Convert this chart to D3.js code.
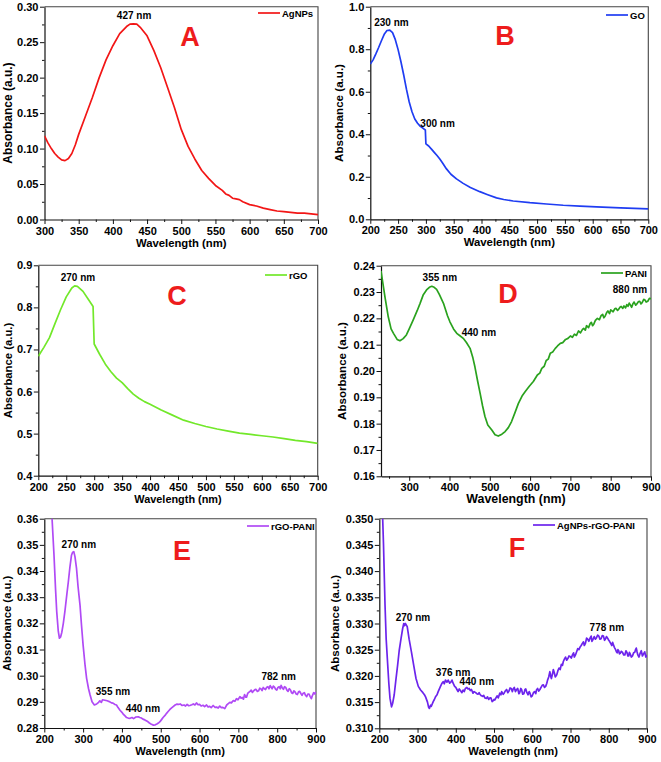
<!DOCTYPE html>
<html>
<head>
<meta charset="utf-8">
<script src="https://cdn.jsdelivr.net/npm/d3@7"></script>
<style>
  html, body { margin: 0; padding: 0; background: #fff; }
  svg { display: block; }
  text { font-family: "Liberation Sans", Arial, sans-serif; font-weight: bold; fill: #000; }
</style>
</head>
<body>
<svg id="chart" width="661" height="762"></svg>
<script>
// ---------------- DATA ----------------
const agnpsData = [[300,0.118],[305,0.108],[310,0.100],[315,0.093],[320,0.088],[325,0.084],[330,0.083],[335,0.086],[340,0.093],[345,0.105],[350,0.120],[360,0.146],[370,0.172],[380,0.200],[390,0.225],[400,0.245],[410,0.262],[420,0.272],[425,0.2755],[430,0.2758],[435,0.2755],[440,0.271],[450,0.259],[460,0.238],[470,0.214],[480,0.186],[490,0.158],[500,0.127],[510,0.103],[520,0.085],[530,0.069],[540,0.058],[550,0.048],[560,0.041],[565,0.036],[570,0.034],[575,0.030],[580,0.029],[585,0.028],[590,0.025],[600,0.021],[610,0.019],[620,0.016],[630,0.014],[640,0.012],[650,0.011],[660,0.010],[670,0.009],[680,0.009],[690,0.008],[700,0.007]];

const goData = [[200,0.730],[205,0.750],[210,0.778],[215,0.808],[220,0.840],[225,0.870],[230,0.888],[235,0.890],[240,0.878],[245,0.845],[250,0.798],[255,0.742],[260,0.680],[265,0.612],[270,0.552],[275,0.506],[280,0.472],[285,0.452],[290,0.437],[295,0.428],[299,0.420],[300,0.355],[305,0.345],[310,0.330],[315,0.315],[320,0.300],[325,0.284],[330,0.265],[337,0.237],[345,0.212],[355,0.190],[367,0.169],[380,0.150],[397,0.130],[410,0.117],[427,0.101],[440,0.093],[457,0.086],[487,0.078],[517,0.072],[547,0.066],[577,0.062],[607,0.058],[650,0.054],[700,0.049]];

const rgoData = [[200,0.684],[210,0.705],[220,0.728],[230,0.762],[240,0.795],[250,0.825],[260,0.846],[265,0.851],[270,0.850],[280,0.838],[290,0.818],[298,0.802],[300,0.713],[310,0.688],[320,0.665],[330,0.647],[340,0.632],[350,0.621],[360,0.607],[370,0.594],[380,0.584],[390,0.576],[400,0.570],[420,0.556],[440,0.544],[460,0.532],[480,0.524],[500,0.517],[520,0.511],[540,0.506],[560,0.501],[580,0.498],[600,0.495],[620,0.492],[640,0.488],[660,0.484],[680,0.481],[700,0.477]];

const paniData = [[230,0.2380],[235,0.2330],[240,0.2280],[248,0.2206],[255,0.2160],[261,0.2143],[270,0.2120],[277,0.2115],[285,0.2123],[293,0.2137],[300,0.2160],[310,0.2194],[320,0.2230],[327,0.2257],[335,0.2290],[343,0.2308],[350,0.2318],[356,0.2322],[362,0.2318],[368,0.2310],[375,0.2290],[385,0.2257],[395,0.2210],[401,0.2187],[410,0.2160],[418,0.2143],[425,0.2135],[434,0.2124],[442,0.2108],[451,0.2086],[458,0.2050],[463,0.2016],[470,0.1960],[476,0.1915],[482,0.1868],[488,0.1827],[495,0.1795],[505,0.1776],[513,0.1758],[521,0.1753],[530,0.1760],[538,0.1770],[546,0.1785],[554,0.1808],[562,0.1840],[571,0.1877],[580,0.1905],[588,0.1922],[598,0.1942],[608,0.1960],[618,0.1985],[624,0.1992],[629,0.2010],[635,0.2018],[640,0.2040],[645,0.2045],[650,0.2067],[656,0.2072],[662,0.2085],[668,0.2095],[675,0.2105],[681,0.2108],[688,0.2120],[694,0.2124],[700,0.2133],[705,0.2128],[710,0.2140],[715,0.2135],[720,0.2152],[725,0.2145],[730,0.2158],[733,0.2162],[737,0.2155],[740,0.2172],[745,0.2165],[749,0.2180],[752,0.2185],[755,0.2172],[758,0.2178],[762,0.2192],[767,0.2200],[772,0.2195],[776,0.2210],[780,0.2215],[783,0.2202],[786,0.2208],[790,0.2222],[793,0.2228],[797,0.2218],[800,0.2232],[806,0.2225],[810,0.2236],[813,0.2238],[817,0.2230],[820,0.2235],[823,0.2242],[826,0.2245],[830,0.2238],[833,0.2247],[837,0.2240],[840,0.2252],[843,0.2246],[846,0.2258],[849,0.2250],[852,0.2242],[855,0.2255],[858,0.2262],[862,0.2250],[866,0.2257],[869,0.2264],[872,0.2265],[875,0.2255],[878,0.2260],[882,0.2272],[885,0.2270],[888,0.2262],[892,0.2265],[896,0.2276],[900,0.2275]];

const rgoPaniData = [[215,0.3720],[220,0.3600],[225,0.3460],[229,0.3330],[232,0.3245],[236,0.3170],[239,0.3143],[242,0.3148],[245,0.3165],[249,0.3200],[253,0.3245],[258,0.3310],[262,0.3360],[266,0.3415],[270,0.3460],[273,0.3472],[276,0.3474],[279,0.3455],[283,0.3410],[287,0.3340],[292,0.3270],[296,0.3190],[300,0.3117],[305,0.3040],[309,0.2990],[314,0.2950],[318,0.2926],[323,0.2900],[329,0.2888],[335,0.2892],[340,0.2898],[343,0.2904],[347,0.2898],[350,0.2908],[356,0.2906],[362,0.2904],[369,0.2900],[373,0.2896],[377,0.2895],[382,0.2890],[386,0.2888],[390,0.2878],[395,0.2868],[400,0.2860],[404,0.2852],[408,0.2846],[412,0.2840],[416,0.2838],[421,0.2837],[426,0.2840],[430,0.2836],[436,0.2842],[442,0.2843],[446,0.2840],[450,0.2838],[454,0.2834],[459,0.2831],[465,0.2826],[470,0.2820],[476,0.2814],[481,0.2811],[486,0.2812],[490,0.2815],[494,0.2819],[498,0.2824],[502,0.2832],[506,0.2840],[511,0.2848],[515,0.2856],[519,0.2863],[523,0.2870],[528,0.2877],[532,0.2882],[537,0.2888],[541,0.2891],[546,0.2890],[550,0.2892],[555,0.2886],[560,0.2888],[564,0.2884],[568,0.2890],[572,0.2885],[575,0.2886],[580,0.2889],[584,0.2892],[588,0.2888],[592,0.2896],[596,0.2889],[600,0.2890],[604,0.2884],[609,0.2887],[613,0.2882],[618,0.2888],[622,0.2880],[626,0.2883],[630,0.2878],[635,0.2886],[640,0.2879],[644,0.2880],[648,0.2876],[652,0.2884],[656,0.2878],[660,0.2879],[665,0.2874],[667,0.2880],[670,0.2888],[674,0.2893],[678,0.2898],[682,0.2896],[687,0.2905],[691,0.2902],[695,0.2912],[699,0.2908],[704,0.2920],[707,0.2914],[710,0.2917],[713,0.2910],[716,0.2928],[719,0.2918],[721,0.2918],[724,0.2932],[726,0.2935],[730,0.2940],[733,0.2945],[736,0.2936],[738,0.2940],[742,0.2946],[745,0.2948],[749,0.2940],[752,0.2942],[755,0.2952],[758,0.2950],[761,0.2943],[764,0.2955],[767,0.2950],[770,0.2947],[773,0.2956],[776,0.2958],[779,0.2950],[782,0.2962],[785,0.2955],[787,0.2950],[790,0.2960],[793,0.2956],[796,0.2948],[799,0.2945],[802,0.2955],[805,0.2958],[808,0.2950],[810,0.2963],[813,0.2954],[816,0.2948],[819,0.2958],[822,0.2955],[825,0.2945],[828,0.2940],[831,0.2950],[834,0.2946],[837,0.2935],[840,0.2932],[843,0.2942],[846,0.2938],[849,0.2930],[852,0.2928],[855,0.2938],[858,0.2940],[861,0.2932],[864,0.2925],[867,0.2933],[870,0.2935],[873,0.2925],[876,0.2920],[879,0.2930],[882,0.2930],[885,0.2920],[888,0.2912],[891,0.2925],[894,0.2935],[897,0.2930],[900,0.2938]];

const agRgoPaniData = [[208,0.3520],[211,0.3450],[215,0.3335],[218,0.3270],[222,0.3221],[225,0.3185],[228,0.3157],[232,0.3141],[235,0.3148],[239,0.3164],[243,0.3190],[248,0.3221],[252,0.3248],[257,0.3272],[261,0.3290],[264,0.3300],[266,0.3296],[268,0.3300],[270,0.3298],[273,0.3294],[278,0.3270],[284,0.3246],[290,0.3220],[296,0.3195],[302,0.3180],[308,0.3173],[314,0.3168],[318,0.3164],[321,0.3160],[326,0.3150],[329,0.3140],[331,0.3138],[334,0.3144],[336,0.3142],[341,0.3151],[344,0.3155],[347,0.3160],[351,0.3164],[354,0.3170],[360,0.3180],[364,0.3186],[367,0.3189],[370,0.3185],[373,0.3192],[377,0.3188],[380,0.3192],[384,0.3186],[387,0.3188],[390,0.3192],[393,0.3186],[397,0.3180],[400,0.3178],[403,0.3174],[406,0.3170],[409,0.3175],[412,0.3172],[416,0.3168],[419,0.3173],[422,0.3170],[425,0.3176],[429,0.3178],[432,0.3175],[435,0.3176],[438,0.3172],[441,0.3174],[445,0.3167],[448,0.3170],[452,0.3168],[455,0.3166],[458,0.3165],[461,0.3168],[463,0.3165],[467,0.3162],[470,0.3161],[473,0.3163],[476,0.3158],[480,0.3157],[483,0.3160],[486,0.3155],[489,0.3158],[492,0.3158],[495,0.3151],[497,0.3152],[500,0.3155],[502,0.3154],[505,0.3158],[508,0.3162],[511,0.3158],[515,0.3167],[518,0.3164],[520,0.3170],[524,0.3165],[527,0.3168],[530,0.3172],[533,0.3174],[536,0.3168],[539,0.3171],[542,0.3177],[545,0.3176],[548,0.3170],[550,0.3175],[553,0.3178],[556,0.3170],[559,0.3174],[562,0.3176],[565,0.3166],[567,0.3168],[570,0.3176],[572,0.3174],[575,0.3165],[578,0.3166],[581,0.3174],[583,0.3175],[586,0.3168],[589,0.3164],[592,0.3170],[594,0.3167],[597,0.3160],[600,0.3162],[603,0.3168],[606,0.3170],[609,0.3166],[611,0.3173],[614,0.3176],[617,0.3171],[620,0.3174],[623,0.3178],[626,0.3182],[629,0.3183],[632,0.3178],[635,0.3180],[638,0.3186],[640,0.3192],[643,0.3198],[646,0.3208],[648,0.3200],[650,0.3195],[653,0.3204],[655,0.3212],[658,0.3205],[660,0.3198],[662,0.3200],[664,0.3202],[667,0.3210],[670,0.3215],[673,0.3212],[676,0.3222],[679,0.3220],[681,0.3227],[684,0.3232],[687,0.3236],[690,0.3230],[693,0.3233],[696,0.3238],[699,0.3237],[702,0.3234],[705,0.3240],[708,0.3244],[710,0.3236],[713,0.3240],[716,0.3246],[719,0.3252],[722,0.3250],[725,0.3255],[728,0.3258],[731,0.3262],[734,0.3265],[736,0.3258],[739,0.3262],[742,0.3272],[745,0.3270],[748,0.3266],[751,0.3272],[754,0.3276],[756,0.3266],[759,0.3270],[762,0.3275],[765,0.3270],[768,0.3273],[771,0.3278],[774,0.3276],[777,0.3270],[780,0.3271],[783,0.3277],[786,0.3276],[789,0.3268],[791,0.3270],[794,0.3275],[797,0.3272],[800,0.3268],[802,0.3266],[805,0.3262],[808,0.3258],[810,0.3264],[812,0.3260],[815,0.3254],[818,0.3250],[820,0.3246],[822,0.3244],[824,0.3250],[826,0.3248],[828,0.3242],[830,0.3243],[833,0.3247],[836,0.3245],[839,0.3240],[842,0.3240],[845,0.3248],[848,0.3244],[850,0.3238],[852,0.3238],[854,0.3245],[856,0.3242],[859,0.3236],[862,0.3238],[865,0.3244],[868,0.3245],[870,0.3250],[872,0.3253],[874,0.3246],[876,0.3240],[879,0.3236],[882,0.3243],[885,0.3248],[888,0.3238],[891,0.3242],[894,0.3246],[897,0.3236],[900,0.3240]];

// tick values
const aXTicks = [300,350,400,450,500,550,600,650,700];
const aYTicks = [0.00,0.05,0.10,0.15,0.20,0.25,0.30];
const bXTicks = [200,250,300,350,400,450,500,550,600,650,700];
const bYTicks = [0.0,0.2,0.4,0.6,0.8,1.0];
const cXTicks = [200,250,300,350,400,450,500,550,600,650,700];
const cYTicks = [0.4,0.5,0.6,0.7,0.8,0.9];
const dXTicks = [300,400,500,600,700,800,900];
const dYTicks = [0.16,0.17,0.18,0.19,0.20,0.21,0.22,0.23,0.24];
const eXTicks = [200,300,400,500,600,700,800,900];
const eYTicks = [0.28,0.29,0.30,0.31,0.32,0.33,0.34,0.35,0.36];
const fXTicks = [200,300,400,500,600,700,800,900];
const fYTicks = [0.310,0.315,0.320,0.325,0.330,0.335,0.340,0.345,0.350];

// peak annotations (text, wavelength, absorbance at label baseline)
const aNotes = [["427 nm",431,0.2827]];
const bNotes = [["230 nm",238,0.909],["300 nm",321,0.434]];
const cNotes = [["270 nm",271,0.8627]];
const dNotes = [["355 nm",376,0.2342],["440 nm",473,0.2133],["880 nm",848,0.2296]];
const eNotes = [["270 nm",289,0.3488],["355 nm",377,0.2926],["440 nm",454,0.2861],["782 nm",804,0.2983]];
const fNotes = [["270 nm",288,0.3305],["376 nm",393,0.3200],["440 nm",455,0.3183],["778 nm",795,0.3286]];

// ---------------- LAYOUT ----------------
const panels = [
  {letter:"A", name:"AgNPs", data:agnpsData, color:"#f21616", xDom:[300,700], yDom:[0,0.30], xT:aXTicks, yT:aYTicks, xFmt:d3.format("d"), yFmt:d3.format(".2f"), notes:aNotes,
   x0:44.5, x1:318, y0:6.7, y1:219.5, xlabSize:11.3, ylabSize:12, ylabX:8, letterX:190, letterY:46, legX:258, legY:13},
  {letter:"B", name:"GO", data:goData, color:"#1f3df2", xDom:[200,700], yDom:[0,1.0], xT:bXTicks, yT:bYTicks, xFmt:d3.format("d"), yFmt:d3.format(".1f"), notes:bNotes,
   x0:370.3, x1:648.3, y0:6.7, y1:219.3, xlabSize:11.4, ylabSize:11.6, ylabX:339, letterX:505, letterY:45, legX:606, legY:15},
  {letter:"C", name:"rGO", data:rgoData, color:"#72e82a", xDom:[200,700], yDom:[0.4,0.9], xT:cXTicks, yT:cYTicks, xFmt:d3.format("d"), yFmt:d3.format(".1f"), notes:cNotes,
   x0:38.3, x1:317.7, y0:265.3, y1:475.7, xlabSize:10.9, ylabSize:11.3, ylabX:7.5, letterX:177, letterY:305, legX:265, legY:275},
  {letter:"D", name:"PANI", data:paniData, color:"#2aa21e", xDom:[230,900], yDom:[0.16,0.24], xT:dXTicks, yT:dYTicks, xFmt:d3.format("d"), yFmt:d3.format(".2f"), notes:dNotes,
   x0:381, x1:651, y0:265.7, y1:476.3, xlabSize:12.4, ylabSize:11.6, ylabX:342, letterX:508, letterY:303, legX:601, legY:273},
  {letter:"E", name:"rGO-PANI", data:rgoPaniData, color:"#b04af5", xDom:[200,900], yDom:[0.28,0.36], xT:eXTicks, yT:eYTicks, xFmt:d3.format("d"), yFmt:d3.format(".2f"), notes:eNotes,
   x0:44.3, x1:316, y0:518.7, y1:728, xlabSize:11.2, ylabSize:11.3, ylabX:7, letterX:182, letterY:560, legX:247, legY:526},
  {letter:"F", name:"AgNPs-rGO-PANI", data:agRgoPaniData, color:"#6c24ec", xDom:[200,900], yDom:[0.31,0.35], xT:fXTicks, yT:fYTicks, xFmt:d3.format("d"), yFmt:d3.format(".3f"), notes:fNotes,
   x0:379.3, x1:647, y0:518.7, y1:728.3, xlabSize:11.2, ylabSize:11.5, ylabX:335, letterX:517, letterY:557, legX:533, legY:525}
];

const svg = d3.select("#chart");

function midTicks(vals){
  const out = [];
  for (let i = 0; i < vals.length - 1; i++) out.push((vals[i] + vals[i+1]) / 2);
  return out;
}

panels.forEach((p, i) => {
  const x = d3.scaleLinear().domain(p.xDom).range([p.x0, p.x1]);
  const y = d3.scaleLinear().domain(p.yDom).range([p.y1, p.y0]);
  const g = svg.append("g");

  const cid = "clip" + i;
  svg.append("clipPath").attr("id", cid).append("rect")
    .attr("x", p.x0).attr("y", p.y0).attr("width", p.x1 - p.x0).attr("height", p.y1 - p.y0);

  let xMinor = midTicks(p.xT);
  { const h = (p.xT[1]-p.xT[0])/2; if (p.xT[0]-h >= p.xDom[0]) xMinor.unshift(p.xT[0]-h); }
  const yMinor = midTicks(p.yT);

  g.append("g").attr("transform", `translate(0,${p.y1})`)
    .call(d3.axisBottom(x).tickValues(xMinor).tickSize(2.5).tickFormat("").tickSizeOuter(0))
    .call(a => a.select(".domain").remove())
    .call(a => a.selectAll("line").attr("stroke", "#111"));
  g.append("g").attr("transform", `translate(${p.x0},0)`)
    .call(d3.axisLeft(y).tickValues(yMinor).tickSize(2.5).tickFormat("").tickSizeOuter(0))
    .call(a => a.select(".domain").remove())
    .call(a => a.selectAll("line").attr("stroke", "#111"));

  const xa = g.append("g").attr("transform", `translate(0,${p.y1})`)
    .call(d3.axisBottom(x).tickValues(p.xT).tickFormat(p.xFmt).tickSize(4.5).tickPadding(2.8).tickSizeOuter(0));
  const ya = g.append("g").attr("transform", `translate(${p.x0},0)`)
    .call(d3.axisLeft(y).tickValues(p.yT).tickFormat(p.yFmt).tickSize(4.5).tickPadding(1.5).tickSizeOuter(0));
  [xa, ya].forEach(a => {
    a.selectAll("text").style("font-size", "11px").style("font-family", '"Liberation Sans", Arial, sans-serif').style("font-weight", "bold").attr("fill", "#000");
    a.selectAll("line").attr("stroke", "#111").attr("stroke-width", 1);
    a.select(".domain").attr("stroke", "#111").attr("stroke-width", 1.2);
  });

  g.append("path")
    .attr("d", `M${p.x0},${p.y0}H${p.x1}V${p.y1}`)
    .attr("fill", "none").attr("stroke", "#444").attr("stroke-width", 1.1);

  const line = d3.line().x(d => x(d[0])).y(d => y(d[1]));
  g.append("path").datum(p.data)
    .attr("clip-path", `url(#${cid})`)
    .attr("d", line)
    .attr("fill", "none").attr("stroke", p.color).attr("stroke-width", 1.7)
    .attr("stroke-linejoin", "round");

  g.append("text")
    .attr("x", (p.x0 + p.x1) / 2).attr("y", p.y1 + 27)
    .attr("text-anchor", "middle").style("font-size", p.xlabSize + "px")
    .text("Wavelength (nm)");
  g.append("text")
    .attr("transform", `translate(${p.ylabX},${(p.y0 + p.y1) / 2}) rotate(-90)`)
    .attr("text-anchor", "middle").attr("dy", "0.36em").style("font-size", p.ylabSize + "px")
    .text("Absorbance (a.u.)");

  g.append("text")
    .attr("x", p.letterX).attr("y", p.letterY)
    .attr("text-anchor", "middle").style("font-size", "27px").style("fill", "#ee1c1c")
    .text(p.letter);

  g.append("line")
    .attr("x1", p.legX).attr("x2", p.legX + 22).attr("y1", p.legY).attr("y2", p.legY)
    .attr("stroke", p.color).attr("stroke-width", 1.7);
  g.append("text")
    .attr("x", p.legX + 24).attr("y", p.legY + 3.5)
    .style("font-size", "9.5px").text(p.name);

  g.selectAll("text.note").data(p.notes).enter().append("text")
    .attr("class", "note")
    .attr("x", d => x(d[1])).attr("y", d => y(d[2]))
    .attr("text-anchor", "middle").style("font-size", "10px")
    .text(d => d[0]);
});
</script>
</body>
</html>
